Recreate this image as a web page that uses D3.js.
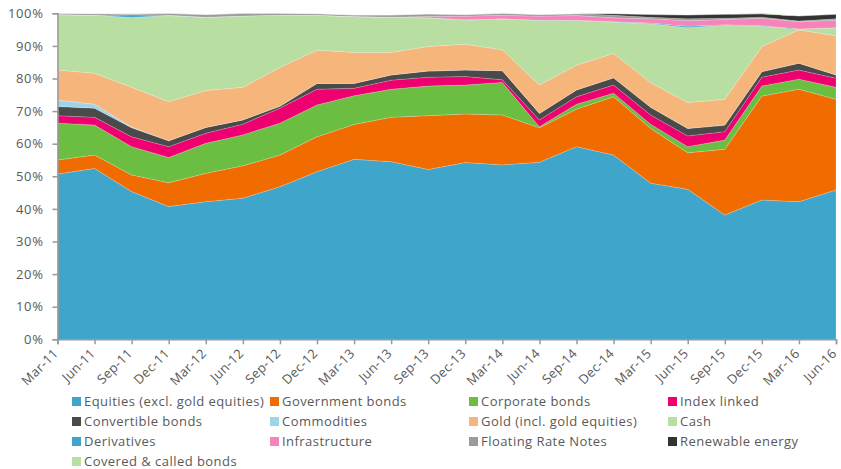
<!DOCTYPE html>
<html>
<head>
<meta charset="utf-8">
<script src="https://cdn.jsdelivr.net/npm/d3@7"></script>
<style>
  html, body { margin: 0; padding: 0; background: #fff; }
  svg text { font-family: "Open Sans", "Noto Sans", sans-serif; fill: #595959; }
</style>
</head>
<body>
<svg id="chart" width="841" height="469"></svg>
<script>
// Quarter-end labels
const quarters = ["Mar-11","Jun-11","Sep-11","Dec-11","Mar-12","Jun-12","Sep-12","Dec-12",
  "Mar-13","Jun-13","Sep-13","Dec-13","Mar-14","Jun-14","Sep-14","Dec-14",
  "Mar-15","Jun-15","Sep-15","Dec-15","Mar-16","Jun-16"];

// Allocation shares (%) per quarter
const equities      = [50.7,52.4,45.3,40.7,42.2,43.3,46.8,51.4,55.2,54.5,52.1,54.2,53.5,54.3,59.1,56.5,47.9,46.0,38.1,42.7,42.2,45.8];
const govBonds      = [4.3,4.1,5.1,7.3,8.7,9.9,9.7,10.7,10.7,13.6,16.5,14.9,15.3,10.6,11.5,17.9,16.8,11.2,20.2,31.9,34.5,27.8];
const corpBonds     = [11.3,9.2,8.7,7.8,9.2,9.5,9.8,9.8,8.8,8.6,9.1,8.9,10.0,0.3,1.5,1.1,1.3,1.9,2.8,3.1,3.1,3.7];
const indexLinked   = [2.3,2.4,3.0,3.3,3.1,3.3,4.6,4.8,2.3,2.8,2.7,2.6,0.8,2.1,2.3,2.5,2.8,3.3,2.6,2.7,2.8,2.8];
const convertibles  = [2.8,2.8,2.8,1.8,1.8,1.3,0.6,1.8,1.5,1.6,1.9,2.0,2.8,2.0,2.1,2.2,2.4,2.3,2.0,1.7,2.1,1.0];
const commodities   = [2.0,1.2,0.2,0,0,0,0,0,0,0,0,0,0,0,0,0,0,0,0,0,0,0];
const gold          = [9.2,9.5,12.2,12.0,11.3,10.0,11.9,10.2,9.5,6.9,7.5,7.9,6.4,8.7,7.6,7.5,7.5,7.9,7.9,7.7,10.2,12.0];
const cash          = [17.0,17.8,21.4,26.4,22.5,21.9,16.0,10.7,11.0,10.8,8.8,7.4,9.5,19.8,13.7,9.6,18.1,23.0,22.7,6.2,0.3,2.5];
const derivatives   = [0,0,0.9,0.1,0,0,0,0,0,0,0,0.1,0,0.1,0.1,0.1,0.2,0.4,0.2,0.2,0,0];
const infrastructure= [0,0,0,0,0,0,0,0,0,0,0.4,1.1,1.1,1.2,1.4,1.2,1.3,1.7,1.6,2.3,2.2,2.3];
const frn           = [0.4,0.5,0.3,0.6,0.8,0.8,0.6,0.5,0.5,0.7,0.8,0.5,0.6,0.5,0.6,0.8,0.5,0.6,0.4,0.3,0.2,0.4];
const renewable     = [0,0,0,0,0,0,0,0,0,0,0,0,0,0,0,0.5,0.8,1.2,1.2,1.0,1.6,1.4];
const covered       = [0,0,0,0,0,0,0,0,0,0,0,0,0,0,0,0,0,0,0,0.3,0,0];

const yTicks = [0,10,20,30,40,50,60,70,80,90,100];

const seriesDefs = [
  { key: "Equities (excl. gold equities)", values: equities,       color: "#3FA5CB" },
  { key: "Government bonds",               values: govBonds,       color: "#F06B00" },
  { key: "Corporate bonds",                values: corpBonds,      color: "#6CBE42" },
  { key: "Index linked",                   values: indexLinked,    color: "#EE0070" },
  { key: "Convertible bonds",              values: convertibles,   color: "#4A4A4A" },
  { key: "Commodities",                    values: commodities,    color: "#9ED4E8" },
  { key: "Gold (incl. gold equities)",     values: gold,           color: "#F6B57B" },
  { key: "Cash",                           values: cash,           color: "#B8DFA1" },
  { key: "Derivatives",                    values: derivatives,    color: "#3FA5CB" },
  { key: "Infrastructure",                 values: infrastructure, color: "#F683BA" },
  { key: "Floating Rate Notes",            values: frn,            color: "#9B9B9B" },
  { key: "Renewable energy",               values: renewable,      color: "#333333" },
  { key: "Covered & called bonds",         values: covered,        color: "#B8DFA1" }
];

const rows = quarters.map((q, i) => {
  const r = { q };
  seriesDefs.forEach(s => { r[s.key] = s.values[i]; });
  return r;
});

const svg = d3.select("#chart");

const x = d3.scalePoint().domain(quarters).range([57.5, 836]);
const y = d3.scaleLinear().domain([0, 100]).range([339.3, 13.3]);

const stack = d3.stack().keys(seriesDefs.map(s => s.key));
const layers = stack(rows);

const area = d3.area()
  .x(d => x(d.data.q))
  .y0(d => y(d[0]))
  .y1(d => y(d[1]));

svg.append("g").selectAll("path")
  .data(layers)
  .join("path")
  .attr("d", area)
  .attr("fill", (d, i) => seriesDefs[i].color)
  .attr("stroke", "#ffffff")
  .attr("stroke-opacity", 0.35)
  .attr("stroke-width", 0.5);

// Y axis
const yAxis = d3.axisLeft(y)
  .tickValues(yTicks)
  .tickFormat(d => d + "%")
  .tickSize(5)
  .tickPadding(9);
const gy = svg.append("g").attr("transform", "translate(57.5,0)").call(yAxis);
gy.select(".domain").attr("stroke", "#999").attr("stroke-width", 1.5);
gy.selectAll(".tick line").attr("stroke", "#999").attr("stroke-width", 1.5);
gy.selectAll(".tick text").style("font-size", "13px").attr("fill", "#595959").style("letter-spacing", "0.6px");

// X axis with labels slanted at 45 degrees, ending just below each tick
const xAxis = d3.axisBottom(x).tickSize(5).tickPadding(4);
const gx = svg.append("g").attr("transform", "translate(0,339.3)").call(xAxis);
gx.select(".domain").attr("stroke", "#999").attr("stroke-width", 1.5);
gx.selectAll(".tick line").attr("stroke", "#999").attr("stroke-width", 1.5);
gx.selectAll(".tick text")
  .style("font-size", "13px")
  .attr("fill", "#595959")
  .style("letter-spacing", "0.3px")
  .attr("text-anchor", "end")
  .attr("x", 0)
  .attr("y", 0)
  .attr("dy", 0)
  .attr("transform", "translate(1,15) rotate(-45)");

// Legend, four columns
const colX = [72, 270, 469, 668];
const legend = svg.append("g");
seriesDefs.forEach((s, i) => {
  const col = i % 4, row = Math.floor(i / 4);
  const gx0 = colX[col], gy0 = 397 + row * 20;
  const g = legend.append("g").attr("transform", `translate(${gx0},${gy0})`);
  g.append("rect").attr("width", 9).attr("height", 9).attr("fill", s.color);
  g.append("text").attr("x", 12).attr("y", 9)
    .style("font-size", "13px").style("letter-spacing", "0.45px")
    .attr("fill", "#595959").text(s.key);
});
</script>
</body>
</html>
